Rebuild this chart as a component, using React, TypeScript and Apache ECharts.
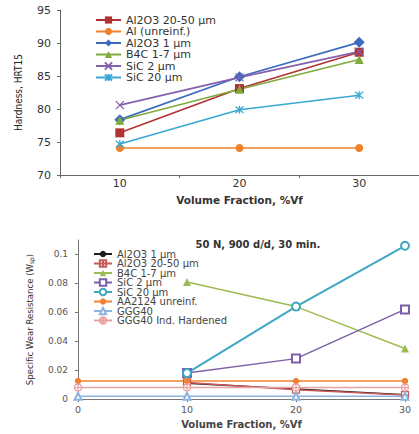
import React, { useEffect, useRef } from "react";
import * as echarts from "echarts";

// ---------- Top chart: Hardness ----------
const hardCategories = ["10", "20", "30"];
const hardAl2O3Coarse = [76.4, 83.1, 88.6];
const hardAlUnreinf = [74.1, 74.1, 74.1];
const hardAl2O3Fine = [78.4, 84.9, 90.1];
const hardB4C = [78.3, 83.0, 87.5];
const hardSiC2 = [80.6, 84.8, 88.7];
const hardSiC20 = [74.7, 79.9, 82.1];
const hardYTicks = { min: 70, max: 95, interval: 5 };

// ---------- Bottom chart: Specific wear resistance ----------
const wearAl2O3Fine = [[10, 0.011], [20, 0.007], [30, 0.003]];
const wearAl2O3Coarse = [[10, 0.0115], [20, 0.0065], [30, 0.0028]];
const wearB4C = [[10, 0.081], [20, 0.064], [30, 0.035]];
const wearSiC2 = [[10, 0.018], [20, 0.028], [30, 0.062]];
const wearSiC20 = [[10, 0.018], [20, 0.064], [30, 0.106]];
const wearAA2124 = [[0, 0.0125], [10, 0.0125], [20, 0.0125], [30, 0.0125]];
const wearGGG40 = [[0, 0.002], [10, 0.002], [20, 0.002], [30, 0.002]];
const wearGGG40Hard = [[0, 0.008], [10, 0.008], [20, 0.008], [30, 0.008]];
const wearYTickValues = [0, 0.02, 0.04, 0.06, 0.08, 0.1];
const wearXTickValues = [0, 10, 20, 30];

const FONT = "DejaVu Sans";
const NARROW = "Liberation Sans Narrow, DejaVu Sans Condensed, Arial, sans-serif";

const X_SYM = "path://M0,0L10,10M10,0L0,10";
const STAR_SYM = "path://M0,0L10,10M10,0L0,10M5,-1L5,11";
const CROSS_RECT = "path://M0,0H10V10H0Z M5,0V10 M0,5H10";
const CROSS_CIRCLE = "path://M10,5A5,5 0 1 1 0,5A5,5 0 1 1 10,5Z M5,0V10 M0,5H10";

function topOption(): any {
  const mk = (name: string, data: number[], color: string, symbol: string, size: number, stroke = false) => ({
    name,
    type: "line",
    data,
    symbol,
    symbolSize: size,
    lineStyle: { color, width: 1.6 },
    itemStyle: stroke
      ? { color, borderColor: color, borderWidth: 1.3 }
      : { color, borderColor: color, borderWidth: 0 },
    z: 2,
  });
  return {
    animation: false,
    grid: { left: 60, top: 10, width: 363, height: 170, containLabel: false },
    legend: {
      orient: "vertical",
      left: 90,
      top: 9.5,
      itemWidth: 25,
      itemHeight: 9,
      itemGap: 0.5,
      textStyle: { fontFamily: FONT, fontSize: 11, color: "#333", lineHeight: 11 },
    },
    xAxis: {
      type: "category",
      data: hardCategories,
      boundaryGap: true,
      name: "Volume Fraction, %Vf",
      nameLocation: "middle",
      nameGap: 13.5,
      nameTextStyle: { fontFamily: FONT, fontSize: 10.5, fontWeight: "bold", color: "#333" },
      axisLine: { lineStyle: { color: "#666", width: 1 } },
      axisTick: { show: true, length: 3, inside: false, lineStyle: { color: "#666" } },
      axisLabel: { fontFamily: FONT, fontSize: 11, color: "#333", margin: 3 },
      splitLine: { show: false },
    },
    yAxis: {
      type: "value",
      min: hardYTicks.min,
      max: hardYTicks.max,
      interval: hardYTicks.interval,
      name: "Hardness, HRT15",
      nameLocation: "middle",
      nameGap: 37,
      nameTextStyle: { fontFamily: NARROW, fontSize: 10, color: "#222" },
      axisLine: { show: true, lineStyle: { color: "#666", width: 1 } },
      axisTick: { show: true, length: 3, lineStyle: { color: "#666" } },
      axisLabel: { fontFamily: FONT, fontSize: 11, color: "#333", margin: 9 },
      splitLine: { show: false },
    },
    series: [
      mk("Al2O3 20-50 µm", hardAl2O3Coarse, "#b03232", "rect", 9),
      mk("Al (unreinf.)", hardAlUnreinf, "#f0802a", "circle", 8),
      mk("Al2O3 1 µm", hardAl2O3Fine, "#3c6cc0", "diamond", 11),
      mk("B4C 1-7 µm", hardB4C, "#7eab3c", "triangle", 9),
      mk("SiC 2 µm", hardSiC2, "#8560ae", X_SYM, 8, true),
      mk("SiC 20 µm", hardSiC20, "#3aa8d2", STAR_SYM, 8, true),
    ],
  };
}

function bottomOption(): any {
  const mk = (
    name: string,
    data: number[][],
    color: string,
    symbol: string,
    size: number,
    opts: { empty?: boolean; stroke?: boolean; width?: number } = {}
  ) => ({
    name,
    type: "line",
    data,
    symbol,
    symbolSize: size,
    lineStyle: { color, width: opts.width ?? 1.4 },
    itemStyle: opts.empty
      ? { color, borderColor: color, borderWidth: 1.3 }
      : opts.stroke
      ? { color: "#fff", borderColor: color, borderWidth: 1.2 }
      : { color, borderColor: color, borderWidth: 0 },
  });
  return {
    animation: false,
    title: {
      text: "50 N, 900 d/d, 30 min.",
      left: 253,
      top: 24,
      textAlign: "center",
      textStyle: { fontFamily: FONT, fontSize: 10, fontWeight: "bold", color: "#333" },
    },
    grid: { left: 78, top: 30, width: 327, height: 164, containLabel: false },
    legend: {
      orient: "vertical",
      left: 88,
      top: 34,
      itemWidth: 18,
      itemHeight: 8,
      itemGap: -0.5,
      textStyle: { fontFamily: FONT, fontSize: 10, color: "#444", lineHeight: 8 },
    },
    xAxis: {
      type: "value",
      min: 0,
      max: 30,
      interval: 10,
      name: "Volume Fraction, %Vf",
      nameLocation: "middle",
      nameGap: 12,
      nameTextStyle: { fontFamily: FONT, fontSize: 10, fontWeight: "bold", color: "#444" },
      axisLine: { lineStyle: { color: "#777", width: 1 } },
      axisTick: { show: true, length: 3, lineStyle: { color: "#777" }, customValues: wearXTickValues },
      axisLabel: { fontFamily: FONT, fontSize: 9.5, color: "#555", margin: 5, customValues: wearXTickValues },
      splitLine: { show: false },
    },
    yAxis: {
      type: "value",
      min: 0,
      max: 0.11,
      interval: 0.02,
      name: "Specific Wear Resistance (W{sub|sp})",
      nameLocation: "middle",
      nameGap: 43,
      nameTextStyle: {
        fontFamily: NARROW,
        fontSize: 9.5,
        color: "#333",
        rich: { sub: { fontFamily: NARROW, fontSize: 6.5, color: "#333", verticalAlign: "bottom", padding: [4, 0, 0, 0] } },
      },
      axisLine: { show: true, lineStyle: { color: "#777", width: 1 } },
      axisTick: { show: true, length: 3, lineStyle: { color: "#777" }, customValues: wearYTickValues },
      axisLabel: { fontFamily: FONT, fontSize: 9, color: "#555", margin: 10, customValues: wearYTickValues },
      splitLine: { show: false },
    },
    series: [
      mk("Al2O3 1 µm", wearAl2O3Fine, "#1e1e1e", "circle", 4.5, { width: 1.6 }),
      mk("Al2O3 20-50 µm", wearAl2O3Coarse, "#c85a5a", CROSS_RECT, 7, { stroke: true }),
      mk("B4C 1-7 µm", wearB4C, "#9cbb52", "triangle", 8),
      mk("SiC 2 µm", wearSiC2, "#7c5fa8", "emptyRect", 8, { empty: true }),
      mk("SiC 20 µm", wearSiC20, "#3ea8c4", "emptyCircle", 8, { empty: true, width: 2 }),
      mk("AA2124 unreinf.", wearAA2124, "#f08232", "circle", 6.5),
      mk("GGG40", wearGGG40, "#8db3e0", "emptyTriangle", 7, { empty: true }),
      mk("GGG40 Ind. Hardened", wearGGG40Hard, "#e8a2a2", CROSS_CIRCLE, 7, { stroke: true }),
    ],
  };
}

export default function App() {
  const topRef = useRef<HTMLDivElement>(null);
  const botRef = useRef<HTMLDivElement>(null);

  useEffect(() => {
    document.body.style.margin = "0";
    const top = echarts.init(topRef.current!, null, { renderer: "svg" });
    const bot = echarts.init(botRef.current!, null, { renderer: "svg" });
    top.setOption(topOption());
    bot.setOption(bottomOption());
    return () => {
      top.dispose();
      bot.dispose();
    };
  }, []);

  return (
    <div style={{ position: "absolute", left: 0, top: 0, width: 419, height: 434, background: "#fff" }}>
      <div ref={topRef} style={{ position: "absolute", left: 0, top: 0, width: 419, height: 210 }} />
      <div ref={botRef} style={{ position: "absolute", left: 0, top: 210, width: 419, height: 224 }} />
    </div>
  );
}
